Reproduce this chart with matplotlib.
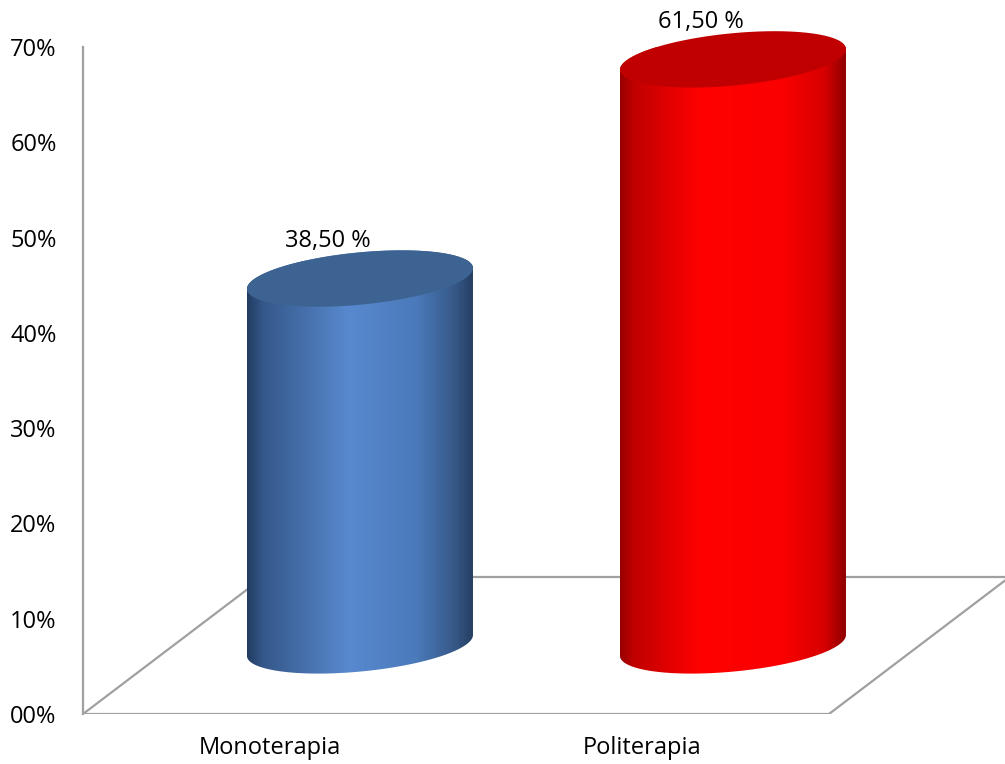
import numpy as np
import matplotlib
matplotlib.use("Agg")
import matplotlib.pyplot as plt
import matplotlib.colors as mcolors
from matplotlib.patches import Polygon

plt.rcParams["font.family"] = ["Open Sans", "DejaVu Sans"]

categories = ["Monoterapia", "Politerapia"]
values = [38.5, 61.5]
y_ticks = [0, 10, 20, 30, 40, 50, 60, 70]

# shading across each cylinder, left to right, plus the colour of its lid
body_stops = [
    [(0.0, "#223C61"), (0.07, "#35588A"), (0.45, "#5889CF"),
     (0.75, "#4A7ABA"), (0.92, "#365886"), (1.0, "#243D61")],
    [(0.0, "#980000"), (0.06, "#C00000"), (0.35, "#FF0000"),
     (0.72, "#FA0000"), (0.9, "#D80000"), (1.0, "#8C0000")],
]
lid_colors = ["#3D6392", "#C00000"]

grid_color = "#A0A0A0"

# floor depth (oblique projection) in data units
depth_x = 0.485
depth_y = 14.4

half_w = 0.303   # cylinder radius along x
rim = 2.75       # half height of the elliptical lid
tilt = 3.6       # slight slope of the lid


def draw_cylinder(ax, xc, base, height, stops, lid_color):
    top = base + height
    tb = np.linspace(np.pi, 2 * np.pi, 120)
    bx = xc + half_w * np.cos(tb)
    by = base + rim * np.sin(tb) + tilt * half_w * np.cos(tb)
    tt = np.linspace(0, np.pi, 120)
    tx = xc + half_w * np.cos(tt)
    ty = top + rim * np.sin(tt) + tilt * half_w * np.cos(tt)
    body = Polygon(np.column_stack([np.r_[bx, tx], np.r_[by, ty]]),
                   closed=True, facecolor="none", edgecolor="none",
                   clip_on=False, zorder=3)
    ax.add_patch(body)

    cmap = mcolors.LinearSegmentedColormap.from_list("shade", stops)
    grad = np.linspace(0, 1, 256).reshape(1, -1)
    im = ax.imshow(grad, cmap=cmap, aspect="auto", interpolation="bilinear",
                   extent=(xc - half_w, xc + half_w, base - rim - 2, top + rim + 2),
                   origin="lower", zorder=3)
    im.set_clip_path(body)
    im.set_clip_box(None)

    t = np.linspace(0, 2 * np.pi, 240)
    lx = xc + half_w * np.cos(t)
    ly = top + rim * np.sin(t) + tilt * half_w * np.cos(t)
    ax.add_patch(Polygon(np.column_stack([lx, ly]), closed=True,
                         facecolor=lid_color, edgecolor="none",
                         clip_on=False, zorder=4))
    return top


fig = plt.figure(figsize=(10.05, 7.64), dpi=100)
ax = fig.add_axes([83 / 1005, 50 / 764, 922 / 1005, 667 / 764])

x = np.arange(len(categories))
x_right = -0.5 + 922 / 373
ax.set_xlim(-0.5, x_right)
ax.set_ylim(0, 70)

# floor of the 3D plot
x0, x1 = -0.5, len(categories) - 0.5
ax.plot([x0, x1], [0, 0], color=grid_color, lw=1.6, zorder=1)
ax.plot([x0 + depth_x, x_right + 0.1], [depth_y, depth_y], color=grid_color, lw=1.6, zorder=1)
ax.plot([x0, x0 + depth_x], [0, depth_y], color=grid_color, lw=1.6, zorder=1)
ax.plot([x1, x1 + depth_x], [0, depth_y], color=grid_color, lw=1.6, zorder=1)

for i, (v, stops, lid) in enumerate(zip(values, body_stops, lid_colors)):
    xc = x[i] + depth_x / 2
    top = draw_cylinder(ax, xc, depth_y / 2, v, stops, lid)
    label = f"{v:.2f}".replace(".", ",") + " %"
    ax.text(xc - 0.085, top + 3.9, label, ha="center", va="center",
            fontsize=17, color="black", clip_on=False, zorder=5)

for side in ["top", "right", "bottom"]:
    ax.spines[side].set_visible(False)
ax.spines["left"].set_color(grid_color)
ax.spines["left"].set_linewidth(1.6)

ax.set_yticks(y_ticks)
ax.set_yticklabels([f"{t:02d}%" for t in y_ticks], fontsize=17)
ax.set_xticks(x)
ax.set_xticklabels(categories, fontsize=17)
ax.tick_params(axis="y", length=0, pad=19)
ax.tick_params(axis="x", length=0, pad=16)

fig.savefig("out.png", dpi=100)
